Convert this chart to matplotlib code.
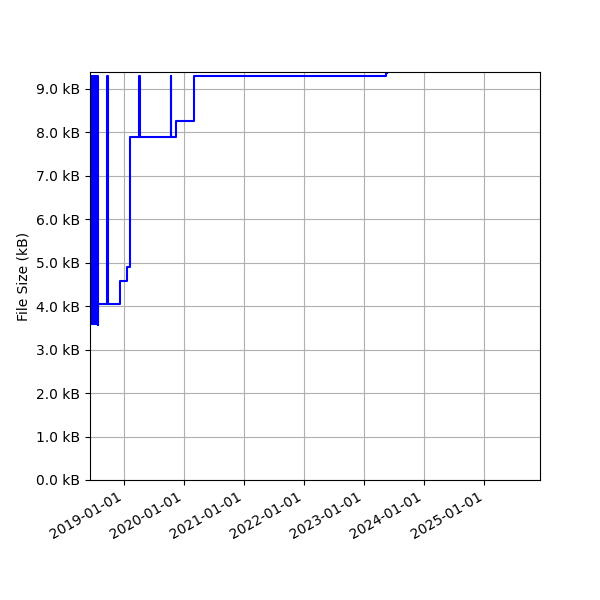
import matplotlib
matplotlib.use('Agg')
import matplotlib.pyplot as plt
import matplotlib.dates as mdates
import numpy as np
import pandas as pd
from matplotlib.ticker import FuncFormatter, MultipleLocator

# commit dates and file sizes (kB)
dates = [
    '2018-06-10', '2018-06-12', '2018-06-14', '2018-06-16', '2018-06-18',
    '2018-06-20', '2018-06-22', '2018-06-24', '2018-06-26', '2018-06-28',
    '2018-06-30', '2018-07-02', '2018-07-04', '2018-07-06', '2018-07-08',
    '2018-07-10', '2018-07-12', '2018-07-14', '2018-07-16', '2018-07-18',
    '2018-07-20', '2018-07-22', '2018-07-24', '2018-07-26', '2018-07-29',
    '2018-09-23', '2018-09-25',
    '2018-12-11', '2019-01-21', '2019-02-06',
    '2019-04-05', '2019-04-07',
    '2019-10-16', '2019-10-18',
    '2019-11-16', '2020-03-02', '2023-05-17', '2023-05-18',
]
sizes = [
    9.30, 3.58, 9.30, 3.60, 9.30,
    3.58, 9.30, 3.62, 9.30, 3.58,
    9.30, 3.60, 9.30, 3.58, 9.30,
    3.60, 9.30, 3.58, 9.30, 3.60,
    9.30, 3.58, 9.30, 3.57, 4.04,
    9.30, 4.04,
    4.59, 4.91, 7.90,
    9.30, 7.90,
    9.30, 7.90,
    8.27, 9.30, 9.36, 9.36,
]

dates = pd.to_datetime(dates)

fig, ax = plt.subplots(figsize=(6, 6), dpi=100)
ax.plot(dates, sizes, color='blue', linewidth=1.5, drawstyle='steps-post')

ax.set_ylabel('File Size (kB)')
ax.set_ylim(0, 9.39)
ax.yaxis.set_major_locator(MultipleLocator(1.0))
ax.yaxis.set_major_formatter(FuncFormatter(lambda v, p: f'{v:.1f} kB'))

ax.set_xlim(pd.Timestamp('2018-06-10'), pd.Timestamp('2025-12-05'))
ax.xaxis.set_major_locator(mdates.YearLocator())
ax.xaxis.set_major_formatter(mdates.DateFormatter('%Y-%m-%d'))
ax.grid(True)

fig.autofmt_xdate()
fig.subplots_adjust(left=0.15, right=0.9, top=0.88, bottom=0.2)
fig.savefig('out.png')
